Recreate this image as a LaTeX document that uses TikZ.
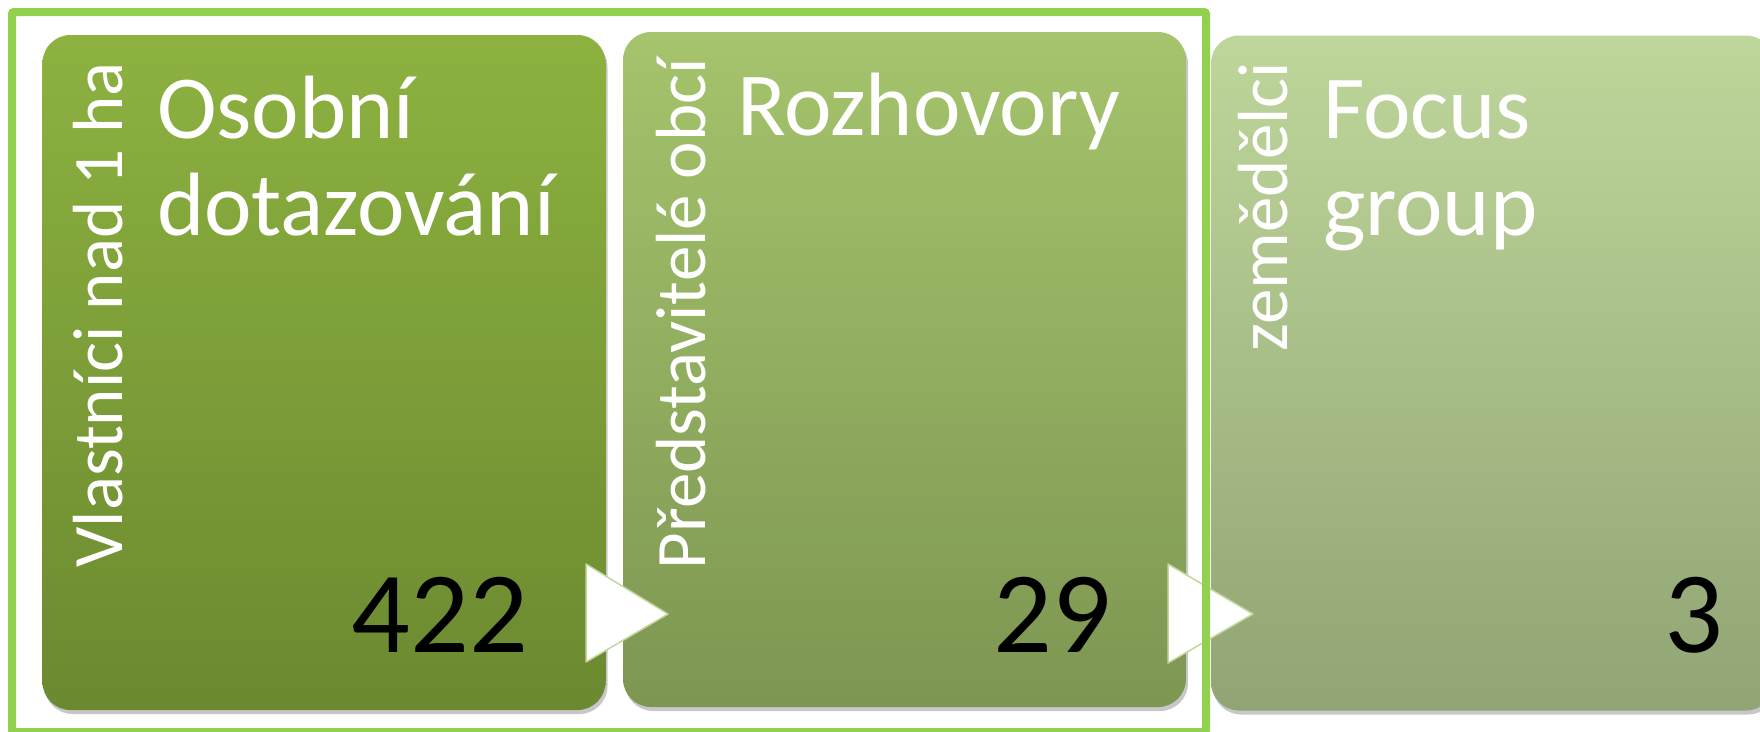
\documentclass[tikz,border=0pt]{standalone}
\usepackage{fontspec}
\setmainfont{Carlito}
\usetikzlibrary{positioning}

\definecolor{border}{HTML}{92D050}
\definecolor{sAtop}{HTML}{8DB240}
\definecolor{sAbot}{HTML}{6B8930}
\definecolor{sBtop}{HTML}{A5C46C}
\definecolor{sBbot}{HTML}{7D9652}
\definecolor{sCtop}{HTML}{BED69A}
\definecolor{sCbot}{HTML}{91A474}
\definecolor{tipline}{HTML}{C3D69B}

\begin{document}
\begin{tikzpicture}[x=1pt,y=-1pt]
                        \tikzstyle{every node}=[inner sep=0,outer sep=0]
                        \tikzstyle{stage}=[rectangle,rounded corners=28,minimum width=563,minimum height=675]
                        \tikzstyle{shade}=[stage,fill=black,opacity=.22]
                        \tikzstyle{side}=[rotate=90,text=white,font=\fontsize{71}{85}\selectfont]
                        \tikzstyle{title}=[text=white,align=left,font=\fontsize{90}{97}\selectfont]
                        \tikzstyle{count}=[text=black,font=\fontsize{116}{130}\selectfont]
                        \tikzstyle{pointer}=[fill=white,draw=tipline,line width=1.5,line join=round]
                        \tikzstyle{frame}=[draw=border,line width=8,rounded corners=2]
                        {
                            \useasboundingbox (0,0) rectangle (1760,731);
                            \clip (0,0) rectangle (1760,731);

                            \foreach \name/\x/\y/\c in {A/324/372.5/sA,B/904.5/369.5/sB,C/1492.5/373/sC} {
                                \node[shade] (\name shadow) at (\x+2,\y+4) {};
                                \node[stage,top color=\c top,bottom color=\c bot] (\name) at (\x,\y) {};
                            }

                            \node[side,anchor=base east] (Aside) at (122,62) {Vlastníci nad 1 ha};
                            \node[title,anchor=base west] (Atitle) at (157,235) {Osobní\\dotazování};
                            \node[count,anchor=base east] (Acount) at (528,652) {422};

                            \node[side,anchor=base east] (Bside) at (705,58) {Představitelé obcí};
                            \node[title,anchor=base west] (Btitle) at (737,135) {Rozhovory};
                            \node[count,anchor=base east] (Bcount) at (1111,652) {29};

                            \node[side,anchor=base east] (Cside) at (1287,62) {zemědělci};
                            \node[title,anchor=base west] (Ctitle) at (1323,235) {Focus\\group};
                            \node[count,anchor=base east] (Ccount) at (1723,652) {3};

                            \draw[pointer] (586,564) -- (668,614) -- (586,662) -- cycle;
                            \draw[pointer] (1168,564) -- (1253,614) -- (1168,663) -- cycle;

                            \draw[frame] (12,12) rectangle (1206,732);
                        }
\end{tikzpicture}
\end{document}
